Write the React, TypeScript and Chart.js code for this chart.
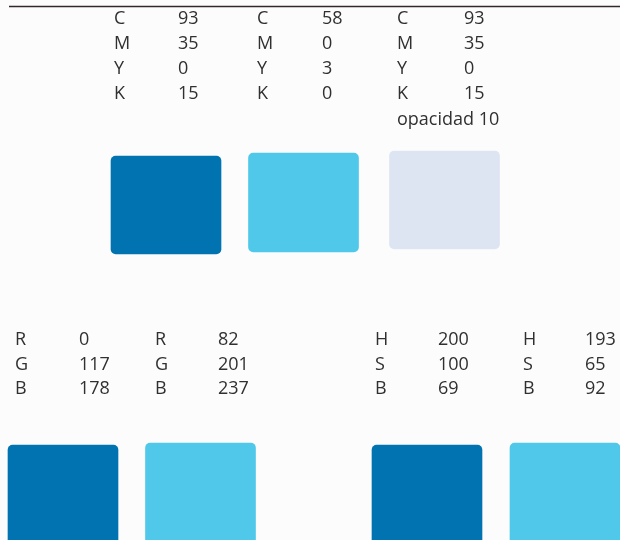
import React, { useEffect, useRef } from "react";
import { Chart, registerables } from "chart.js";

Chart.register(...registerables);

// ---- data ----
const cmykLetters = ["C", "M", "Y", "K"];
const cmykPrimary = [93, 35, 0, 15];
const cmykSecondary = [58, 0, 3, 0];
const cmykTint = [93, 35, 0, 15];
const tintNote = "opacidad 10";

const rgbLetters = ["R", "G", "B"];
const rgbPrimary = [0, 117, 178];
const rgbSecondary = [82, 201, 237];

const hsbLetters = ["H", "S", "B"];
const hsbPrimary = [200, 100, 69];
const hsbSecondary = [193, 65, 92];

const dark = "#0073b0";
const light = "#50c8ea";
const pale = "#dde5f2";

// swatch centres (x) and vertical extents (y from top, y to bottom) in a 620x540 space
const topSwatchX = [166, 303.5, 444.5];
const topSwatchY: [number, number][] = [[156, 254], [153, 252], [151, 249]];
const topSwatchColors = [dark, light, pale];

const bottomSwatchX = [63, 200.5, 427, 565];
const bottomSwatchY: [number, number][] = [[445, 560], [443, 560], [445, 560], [443, 560]];
const bottomSwatchColors = [dark, light, dark, light];

// top rule
const ruleX = [9, 620];
const ruleY = [6.5, 6.5];

// text layout
const topLetterX = [114, 257, 397];
const topValueX = [178, 322, 464];
const topBaselines = [23.5, 48.5, 73.5, 98.5];
const noteBaseline = 124.5;
const bottomLetterX = [15, 155, 375, 523];
const bottomValueX = [79, 218, 438, 585];
const bottomBaselines = [345, 369.5, 394];

export default function App() {
  const ref = useRef<HTMLCanvasElement | null>(null);

  useEffect(() => {
    if (!ref.current) return;

    const bgPlugin = {
      id: "bg",
      beforeDraw(chart: any) {
        const { ctx, width, height } = chart;
        ctx.save();
        ctx.fillStyle = "#fcfcfc";
        ctx.fillRect(0, 0, width, height);
        ctx.restore();
      },
    };

    const textPlugin = {
      id: "swatchText",
      afterDatasetsDraw(chart: any) {
        const { ctx } = chart;
        const xs = chart.scales.x;
        const ys = chart.scales.y;
        ctx.save();
        ctx.font = '18px "Open Sans"';
        ctx.fillStyle = "#303030";
        ctx.textBaseline = "alphabetic";
        ctx.textAlign = "left";
        const put = (t: string, x: number, y: number) =>
          ctx.fillText(t, xs.getPixelForValue(x), ys.getPixelForValue(y));

        const topCols = [cmykPrimary, cmykSecondary, cmykTint];
        topCols.forEach((vals, c) => {
          cmykLetters.forEach((l, i) => {
            put(l, topLetterX[c], topBaselines[i]);
            put(String(vals[i]), topValueX[c], topBaselines[i]);
          });
        });
        put(tintNote, topLetterX[2], noteBaseline);

        const bottomCols: [string[], number[]][] = [
          [rgbLetters, rgbPrimary],
          [rgbLetters, rgbSecondary],
          [hsbLetters, hsbPrimary],
          [hsbLetters, hsbSecondary],
        ];
        bottomCols.forEach(([letters, vals], c) => {
          letters.forEach((l, i) => {
            put(l, bottomLetterX[c], bottomBaselines[i]);
            put(String(vals[i]), bottomValueX[c], bottomBaselines[i]);
          });
        });
        ctx.restore();
      },
    };

    const swatchData = [
      ...topSwatchX.map((x, i) => ({ x, y: topSwatchY[i] })),
      ...bottomSwatchX.map((x, i) => ({ x, y: bottomSwatchY[i] })),
    ];
    const swatchColors = [...topSwatchColors, ...bottomSwatchColors];

    const chart = new Chart(ref.current, {
      type: "bar",
      data: {
        datasets: [
          {
            type: "line",
            data: ruleX.map((x, i) => ({ x, y: ruleY[i] })),
            borderColor: "#33272c",
            borderWidth: 1.5,
            pointRadius: 0,
            fill: false,
          } as any,
          {
            type: "bar",
            data: swatchData as any,
            backgroundColor: swatchColors,
            borderWidth: 0,
            borderRadius: 5,
            borderSkipped: false,
            barThickness: 110,
            grouped: false,
          } as any,
        ],
      },
      options: {
        animation: false,
        responsive: false,
        maintainAspectRatio: false,
        layout: { padding: 0 },
        parsing: { xAxisKey: "x", yAxisKey: "y" } as any,
        plugins: {
          legend: { display: false },
          tooltip: { enabled: false },
        },
        scales: {
          x: { type: "linear", min: 0, max: 620, offset: false, display: false },
          y: { type: "linear", min: 0, max: 540, reverse: true, display: false },
        },
      },
      plugins: [bgPlugin, textPlugin],
    });

    return () => chart.destroy();
  }, []);

  return (
    <div style={{ position: "fixed", left: 0, top: 0, width: 620, height: 540 }}>
      <canvas ref={ref} width={620} height={540} style={{ display: "block" }} />
    </div>
  );
}
